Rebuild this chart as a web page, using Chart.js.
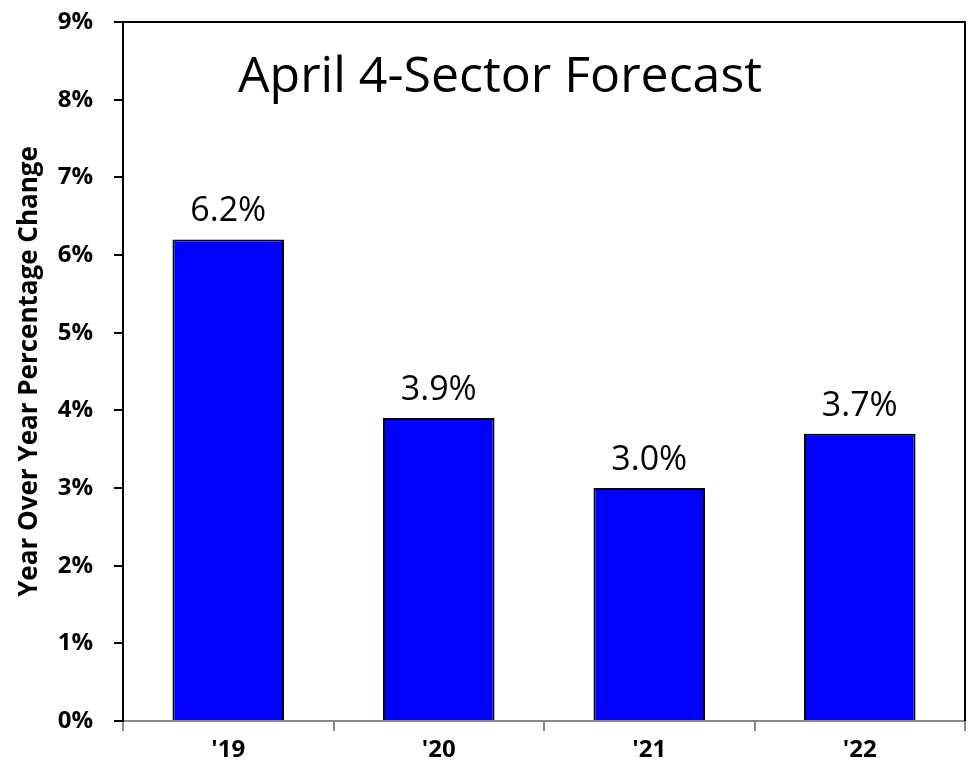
<!DOCTYPE html>
<html>
<head>
<meta charset="utf-8">
<script src="https://cdn.jsdelivr.net/npm/chart.js@4"></script>
<style>
  html, body { margin: 0; padding: 0; background: #fff; }
  #wrap { width: 970px; height: 775px; }
</style>
</head>
<body>
<div id="wrap"><canvas id="myChart" width="970" height="775"></canvas></div>
<script>
// datos del grafico
var categorias = ["'19", "'20", "'21", "'22"];
var valores = [6.2, 3.9, 3.0, 3.7];
var titulo = 'April 4-Sector Forecast';
var titulo_y = 'Year Over Year Percentage Change';

var fuente = "'Open Sans', Lato, sans-serif";

// bordes, titulo y etiquetas dentro del area
var extras = {
  id: 'extras',
  afterDatasetsDraw: function (chart) {
    var ctx = chart.ctx;
    var a = chart.chartArea;
    ctx.save();
    ctx.strokeStyle = '#000';
    ctx.lineWidth = 2;
    ctx.beginPath();
    ctx.moveTo(a.left - 9, a.top);
    ctx.lineTo(a.right, a.top);
    ctx.lineTo(a.right, a.bottom);
    ctx.stroke();

    ctx.fillStyle = '#000';
    ctx.textAlign = 'center';
    ctx.textBaseline = 'middle';
    ctx.font = '50px ' + fuente;
    ctx.fillText(titulo, 500, 78);

    ctx.font = '34px ' + fuente;
    ctx.textBaseline = 'alphabetic';
    var meta = chart.getDatasetMeta(0);
    meta.data.forEach(function (bar, i) {
      ctx.fillText(valores[i].toFixed(1) + '%', bar.x, bar.y - 18);
    });
    ctx.restore();
  }
};

var chart_bar = new Chart(document.getElementById('myChart'), {
  type: 'bar',
  data: {
    labels: categorias,
    datasets: [{
      data: valores,
      backgroundColor: '#0000FF',
      borderColor: '#000',
      borderWidth: 2,
      borderSkipped: 'bottom',
      barPercentage: 0.53,
      categoryPercentage: 1
    }]
  },
  options: {
    responsive: false,
    animation: false,
    layout: { padding: { top: 22, right: 5, left: 0, bottom: 0 } },
    plugins: { legend: { display: false }, tooltip: { enabled: false } },
    scales: {
      x: {
        offset: true,
        grid: { offset: true, drawOnChartArea: false, color: '#888', tickLength: 10, lineWidth: 2 },
        border: { color: '#888', width: 2 },
        ticks: { color: '#000', font: { family: fuente, size: 24, weight: 'bold' }, padding: 5 },
        afterFit: function (s) { s.height = 54; }
      },
      y: {
        min: 0,
        max: 9,
        grid: { drawOnChartArea: false, color: '#000', tickLength: 9, lineWidth: 2 },
        border: { color: '#000', width: 2 },
        ticks: {
          stepSize: 1,
          color: '#000',
          padding: 21,
          font: { family: fuente, size: 24, weight: 'bold' },
          callback: function (v) { return v + '%'; }
        },
        title: {
          display: true,
          text: titulo_y,
          color: '#000',
          font: { family: fuente, size: 26, weight: 'bold' },
          padding: { top: 14, bottom: 0 }
        },
        afterFit: function (s) { s.width = 123; s.paddingTop = 0; s.paddingBottom = 0; }
      }
    }
  },
  plugins: [extras]
});
</script>
</body>
</html>
